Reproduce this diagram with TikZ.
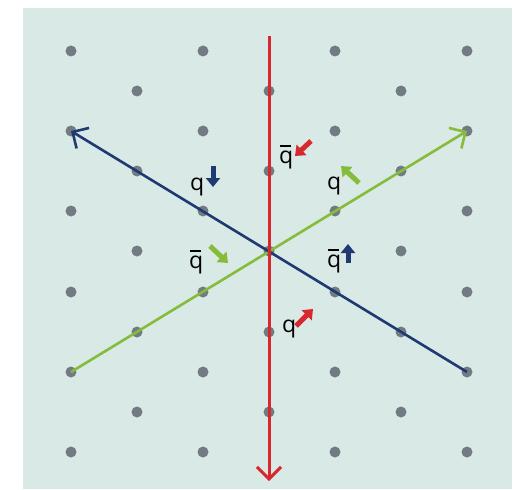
\documentclass[tikz,border=0pt]{standalone}
\usepackage{fontspec}
\setmainfont{Open Sans}
\usetikzlibrary{arrows.meta}
\definecolor{bgc}{HTML}{D9E9E5}
\definecolor{dotc}{HTML}{737B82}
\definecolor{qred}{HTML}{D7282F}
\definecolor{qblue}{HTML}{1F3A73}
\definecolor{qgreen}{HTML}{86BC3B}
\newcommand{\qbarsym}{\leavevmode\rlap{\hspace{0.04em}\raisebox{0.70em}{\rule{0.48em}{0.085em}}}q}
\begin{document}
\begin{tikzpicture}[x=1pt,y=-1pt,
  dot/.style={circle,fill=dotc,inner sep=0pt,minimum size=11pt},
  lbl/.style={anchor=base west,inner sep=0pt,font=\fontsize{23}{23}\selectfont},
  fat/.style={line width=5pt,-{Triangle[length=9pt,width=14pt]}},
  axisline/.style={line width=2.6pt,-{Straight Barb[length=12pt,width=24pt]}}]
\useasboundingbox (0,0) rectangle (526,489);
\fill[bgc] (23,8) rectangle (512,489);
\foreach \y/\n in {51/0,131/2,211/4,292/6,372/8,452/10}
  \foreach \x/\m in {71/0,203/2,335/4,467/6}
    \node[dot] (d\n-\m) at (\x,\y) {};
\foreach \y/\n in {91/1,171/3,251/5,332/7,412/9}
  \foreach \x/\m in {137/1,269/3,401/5}
    \node[dot] (d\n-\m) at (\x,\y) {};
\coordinate (rtop) at (269,36);
\coordinate (rbot) at (269,481);
\draw[axisline,qgreen] (d8-0.center) -- (d2-6.center);
\draw[axisline,qblue] (d8-6.center) -- (d2-0.center);
\draw[axisline,qred,line width=3pt] (rtop) -- (rbot);
% labels
\node[lbl] (l1) at (190,190) {q};
\node[lbl] (l2) at (279,163) {\qbarsym};
\node[lbl] (l3) at (327,189) {q};
\node[lbl] (l4) at (189,268) {\qbarsym};
\node[lbl] (l5) at (327,267) {\qbarsym};
\node[lbl] (l6) at (282,332) {q};
% small arrows
\coordinate (a1t) at (213,166); \coordinate (a1h) at (213,187);
\coordinate (a2t) at (311,141); \coordinate (a2h) at (295,156);
\coordinate (a3t) at (359,183); \coordinate (a3h) at (341,166);
\coordinate (a4t) at (210,246); \coordinate (a4h) at (228,263);
\coordinate (a5t) at (348,263); \coordinate (a5h) at (348,244);
\coordinate (a6t) at (296,326); \coordinate (a6h) at (313,309);
\draw[fat,qblue] (a1t) -- (a1h);
\draw[fat,qred] (a2t) -- (a2h);
\draw[fat,qgreen] (a3t) -- (a3h);
\draw[fat,qgreen] (a4t) -- (a4h);
\draw[fat,qblue] (a5t) -- (a5h);
\draw[fat,qred] (a6t) -- (a6h);
\end{tikzpicture}
\end{document}
